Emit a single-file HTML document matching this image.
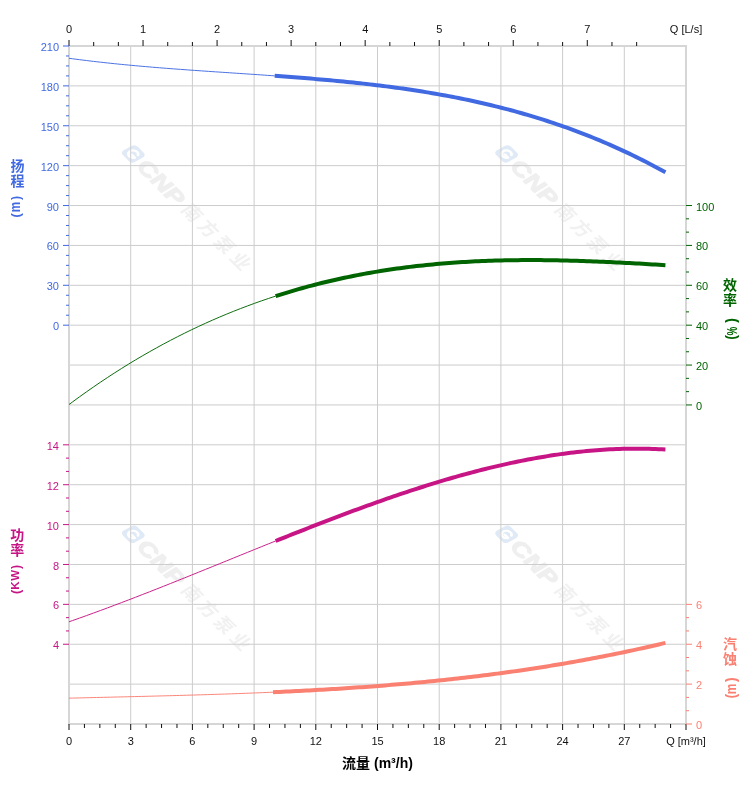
<!DOCTYPE html>
<html lang="zh"><head><meta charset="utf-8"><title>性能曲线</title>
<style>html,body{margin:0;padding:0;background:#fff}body{width:752px;height:797px;overflow:hidden}svg{display:block}</style>
</head><body>
<svg width="752" height="797" viewBox="0 0 752 797"><g transform="translate(133.3,153.9) rotate(45)"><g transform="skewX(-16)"><rect x="-8.2" y="-8.2" width="16.4" height="16.4" rx="4" fill="#dfeaf6"/><path d="M3.6,-2.4 A4.3,4.3 0 1 0 4.2,1.6 L-0.6,1.6" fill="none" stroke="#fff" stroke-width="2.4" stroke-linecap="round" stroke-linejoin="round"/></g><text transform="translate(11.5,7.6) scale(1.27,1)" font-size="21" font-weight="bold" font-style="italic" fill="#efefef" stroke="#efefef" stroke-width="1.2" stroke-linejoin="round" font-family="'Liberation Sans',sans-serif">CNP</text><text transform="translate(82.0,6.6) skewX(-12)" text-anchor="middle" font-size="18.5" font-weight="bold" fill="#f1f1f1" font-family="'Liberation Sans','Noto Sans CJK SC',sans-serif">南</text><text transform="translate(104.7,6.6) skewX(-12)" text-anchor="middle" font-size="18.5" font-weight="bold" fill="#f1f1f1" font-family="'Liberation Sans','Noto Sans CJK SC',sans-serif">方</text><text transform="translate(127.5,6.6) skewX(-12)" text-anchor="middle" font-size="18.5" font-weight="bold" fill="#f1f1f1" font-family="'Liberation Sans','Noto Sans CJK SC',sans-serif">泵</text><text transform="translate(150.5,6.6) skewX(-12)" text-anchor="middle" font-size="18.5" font-weight="bold" fill="#f1f1f1" font-family="'Liberation Sans','Noto Sans CJK SC',sans-serif">业</text></g><g transform="translate(506.6,153.9) rotate(45)"><g transform="skewX(-16)"><rect x="-8.2" y="-8.2" width="16.4" height="16.4" rx="4" fill="#dfeaf6"/><path d="M3.6,-2.4 A4.3,4.3 0 1 0 4.2,1.6 L-0.6,1.6" fill="none" stroke="#fff" stroke-width="2.4" stroke-linecap="round" stroke-linejoin="round"/></g><text transform="translate(11.5,7.6) scale(1.27,1)" font-size="21" font-weight="bold" font-style="italic" fill="#efefef" stroke="#efefef" stroke-width="1.2" stroke-linejoin="round" font-family="'Liberation Sans',sans-serif">CNP</text><text transform="translate(82.0,6.6) skewX(-12)" text-anchor="middle" font-size="18.5" font-weight="bold" fill="#f1f1f1" font-family="'Liberation Sans','Noto Sans CJK SC',sans-serif">南</text><text transform="translate(104.7,6.6) skewX(-12)" text-anchor="middle" font-size="18.5" font-weight="bold" fill="#f1f1f1" font-family="'Liberation Sans','Noto Sans CJK SC',sans-serif">方</text><text transform="translate(127.5,6.6) skewX(-12)" text-anchor="middle" font-size="18.5" font-weight="bold" fill="#f1f1f1" font-family="'Liberation Sans','Noto Sans CJK SC',sans-serif">泵</text><text transform="translate(150.5,6.6) skewX(-12)" text-anchor="middle" font-size="18.5" font-weight="bold" fill="#f1f1f1" font-family="'Liberation Sans','Noto Sans CJK SC',sans-serif">业</text></g><g transform="translate(133.3,534.3) rotate(45)"><g transform="skewX(-16)"><rect x="-8.2" y="-8.2" width="16.4" height="16.4" rx="4" fill="#dfeaf6"/><path d="M3.6,-2.4 A4.3,4.3 0 1 0 4.2,1.6 L-0.6,1.6" fill="none" stroke="#fff" stroke-width="2.4" stroke-linecap="round" stroke-linejoin="round"/></g><text transform="translate(11.5,7.6) scale(1.27,1)" font-size="21" font-weight="bold" font-style="italic" fill="#efefef" stroke="#efefef" stroke-width="1.2" stroke-linejoin="round" font-family="'Liberation Sans',sans-serif">CNP</text><text transform="translate(82.0,6.6) skewX(-12)" text-anchor="middle" font-size="18.5" font-weight="bold" fill="#f1f1f1" font-family="'Liberation Sans','Noto Sans CJK SC',sans-serif">南</text><text transform="translate(104.7,6.6) skewX(-12)" text-anchor="middle" font-size="18.5" font-weight="bold" fill="#f1f1f1" font-family="'Liberation Sans','Noto Sans CJK SC',sans-serif">方</text><text transform="translate(127.5,6.6) skewX(-12)" text-anchor="middle" font-size="18.5" font-weight="bold" fill="#f1f1f1" font-family="'Liberation Sans','Noto Sans CJK SC',sans-serif">泵</text><text transform="translate(150.5,6.6) skewX(-12)" text-anchor="middle" font-size="18.5" font-weight="bold" fill="#f1f1f1" font-family="'Liberation Sans','Noto Sans CJK SC',sans-serif">业</text></g><g transform="translate(506.6,534.3) rotate(45)"><g transform="skewX(-16)"><rect x="-8.2" y="-8.2" width="16.4" height="16.4" rx="4" fill="#dfeaf6"/><path d="M3.6,-2.4 A4.3,4.3 0 1 0 4.2,1.6 L-0.6,1.6" fill="none" stroke="#fff" stroke-width="2.4" stroke-linecap="round" stroke-linejoin="round"/></g><text transform="translate(11.5,7.6) scale(1.27,1)" font-size="21" font-weight="bold" font-style="italic" fill="#efefef" stroke="#efefef" stroke-width="1.2" stroke-linejoin="round" font-family="'Liberation Sans',sans-serif">CNP</text><text transform="translate(82.0,6.6) skewX(-12)" text-anchor="middle" font-size="18.5" font-weight="bold" fill="#f1f1f1" font-family="'Liberation Sans','Noto Sans CJK SC',sans-serif">南</text><text transform="translate(104.7,6.6) skewX(-12)" text-anchor="middle" font-size="18.5" font-weight="bold" fill="#f1f1f1" font-family="'Liberation Sans','Noto Sans CJK SC',sans-serif">方</text><text transform="translate(127.5,6.6) skewX(-12)" text-anchor="middle" font-size="18.5" font-weight="bold" fill="#f1f1f1" font-family="'Liberation Sans','Noto Sans CJK SC',sans-serif">泵</text><text transform="translate(150.5,6.6) skewX(-12)" text-anchor="middle" font-size="18.5" font-weight="bold" fill="#f1f1f1" font-family="'Liberation Sans','Noto Sans CJK SC',sans-serif">业</text></g>
<g fill="#cccccc"><rect x="130.20" y="46" width="1" height="678"/><rect x="191.90" y="46" width="1" height="678"/><rect x="253.60" y="46" width="1" height="678"/><rect x="315.30" y="46" width="1" height="678"/><rect x="377.00" y="46" width="1" height="678"/><rect x="438.70" y="46" width="1" height="678"/><rect x="500.40" y="46" width="1" height="678"/><rect x="562.10" y="46" width="1" height="678"/><rect x="623.80" y="46" width="1" height="678"/><rect x="69" y="85.38" width="617" height="1"/><rect x="69" y="125.26" width="617" height="1"/><rect x="69" y="165.15" width="617" height="1"/><rect x="69" y="205.03" width="617" height="1"/><rect x="69" y="244.91" width="617" height="1"/><rect x="69" y="284.79" width="617" height="1"/><rect x="69" y="324.68" width="617" height="1"/><rect x="69" y="364.56" width="617" height="1"/><rect x="69" y="404.44" width="617" height="1"/><rect x="69" y="444.32" width="617" height="1"/><rect x="69" y="484.21" width="617" height="1"/><rect x="69" y="524.09" width="617" height="1"/><rect x="69" y="563.97" width="617" height="1"/><rect x="69" y="603.85" width="617" height="1"/><rect x="69" y="643.74" width="617" height="1"/><rect x="69" y="683.62" width="617" height="1"/></g>
<g fill="#d6d6d6" shape-rendering="crispEdges"><rect x="68" y="45" width="619" height="2"/><rect x="68" y="723" width="619" height="2"/><rect x="68" y="45" width="2" height="680"/><rect x="685" y="45" width="2" height="680"/></g>
<g fill="#111111"><rect x="68.50" y="724" width="1" height="6"/><rect x="83.92" y="724" width="1" height="4"/><rect x="99.35" y="724" width="1" height="4"/><rect x="114.78" y="724" width="1" height="4"/><rect x="130.20" y="724" width="1" height="6"/><rect x="145.62" y="724" width="1" height="4"/><rect x="161.05" y="724" width="1" height="4"/><rect x="176.47" y="724" width="1" height="4"/><rect x="191.90" y="724" width="1" height="6"/><rect x="207.32" y="724" width="1" height="4"/><rect x="222.75" y="724" width="1" height="4"/><rect x="238.18" y="724" width="1" height="4"/><rect x="253.60" y="724" width="1" height="6"/><rect x="269.02" y="724" width="1" height="4"/><rect x="284.45" y="724" width="1" height="4"/><rect x="299.88" y="724" width="1" height="4"/><rect x="315.30" y="724" width="1" height="6"/><rect x="330.73" y="724" width="1" height="4"/><rect x="346.15" y="724" width="1" height="4"/><rect x="361.57" y="724" width="1" height="4"/><rect x="377.00" y="724" width="1" height="6"/><rect x="392.43" y="724" width="1" height="4"/><rect x="407.85" y="724" width="1" height="4"/><rect x="423.27" y="724" width="1" height="4"/><rect x="438.70" y="724" width="1" height="6"/><rect x="454.12" y="724" width="1" height="4"/><rect x="469.55" y="724" width="1" height="4"/><rect x="484.98" y="724" width="1" height="4"/><rect x="500.40" y="724" width="1" height="6"/><rect x="515.83" y="724" width="1" height="4"/><rect x="531.25" y="724" width="1" height="4"/><rect x="546.67" y="724" width="1" height="4"/><rect x="562.10" y="724" width="1" height="6"/><rect x="577.52" y="724" width="1" height="4"/><rect x="592.95" y="724" width="1" height="4"/><rect x="608.38" y="724" width="1" height="4"/><rect x="623.80" y="724" width="1" height="6"/><rect x="639.23" y="724" width="1" height="4"/><rect x="654.65" y="724" width="1" height="4"/><rect x="670.08" y="724" width="1" height="4"/><rect x="685.50" y="724" width="1" height="6"/><rect x="68.50" y="40" width="1" height="6"/><rect x="93.18" y="42" width="1" height="4"/><rect x="117.86" y="42" width="1" height="4"/><rect x="142.54" y="40" width="1" height="6"/><rect x="167.22" y="42" width="1" height="4"/><rect x="191.90" y="42" width="1" height="4"/><rect x="216.58" y="40" width="1" height="6"/><rect x="241.26" y="42" width="1" height="4"/><rect x="265.94" y="42" width="1" height="4"/><rect x="290.62" y="40" width="1" height="6"/><rect x="315.30" y="42" width="1" height="4"/><rect x="339.98" y="42" width="1" height="4"/><rect x="364.66" y="40" width="1" height="6"/><rect x="389.34" y="42" width="1" height="4"/><rect x="414.02" y="42" width="1" height="4"/><rect x="438.70" y="40" width="1" height="6"/><rect x="463.38" y="42" width="1" height="4"/><rect x="488.06" y="42" width="1" height="4"/><rect x="512.74" y="40" width="1" height="6"/><rect x="537.42" y="42" width="1" height="4"/><rect x="562.10" y="42" width="1" height="4"/><rect x="586.78" y="40" width="1" height="6"/><rect x="611.46" y="42" width="1" height="4"/><rect x="636.14" y="42" width="1" height="4"/></g>
<g fill="#4169e1"><rect x="63" y="45.50" width="6" height="1"/><rect x="66" y="55.47" width="3" height="1"/><rect x="66" y="65.44" width="3" height="1"/><rect x="66" y="75.41" width="3" height="1"/><rect x="63" y="85.38" width="6" height="1"/><rect x="66" y="95.35" width="3" height="1"/><rect x="66" y="105.32" width="3" height="1"/><rect x="66" y="115.29" width="3" height="1"/><rect x="63" y="125.26" width="6" height="1"/><rect x="66" y="135.24" width="3" height="1"/><rect x="66" y="145.21" width="3" height="1"/><rect x="66" y="155.18" width="3" height="1"/><rect x="63" y="165.15" width="6" height="1"/><rect x="66" y="175.12" width="3" height="1"/><rect x="66" y="185.09" width="3" height="1"/><rect x="66" y="195.06" width="3" height="1"/><rect x="63" y="205.03" width="6" height="1"/><rect x="66" y="215.00" width="3" height="1"/><rect x="66" y="224.97" width="3" height="1"/><rect x="66" y="234.94" width="3" height="1"/><rect x="63" y="244.91" width="6" height="1"/><rect x="66" y="254.88" width="3" height="1"/><rect x="66" y="264.85" width="3" height="1"/><rect x="66" y="274.82" width="3" height="1"/><rect x="63" y="284.79" width="6" height="1"/><rect x="66" y="294.76" width="3" height="1"/><rect x="66" y="304.74" width="3" height="1"/><rect x="66" y="314.71" width="3" height="1"/><rect x="63" y="324.68" width="6" height="1"/></g>
<g fill="#006400"><rect x="686" y="205.03" width="6" height="1"/><rect x="686" y="218.32" width="3" height="1"/><rect x="686" y="231.62" width="3" height="1"/><rect x="686" y="244.91" width="6" height="1"/><rect x="686" y="258.21" width="3" height="1"/><rect x="686" y="271.50" width="3" height="1"/><rect x="686" y="284.79" width="6" height="1"/><rect x="686" y="298.09" width="3" height="1"/><rect x="686" y="311.38" width="3" height="1"/><rect x="686" y="324.68" width="6" height="1"/><rect x="686" y="337.97" width="3" height="1"/><rect x="686" y="351.26" width="3" height="1"/><rect x="686" y="364.56" width="6" height="1"/><rect x="686" y="377.85" width="3" height="1"/><rect x="686" y="391.15" width="3" height="1"/><rect x="686" y="404.44" width="6" height="1"/></g>
<g fill="#c71585"><rect x="63" y="444.32" width="6" height="1"/><rect x="66" y="457.62" width="3" height="1"/><rect x="66" y="470.91" width="3" height="1"/><rect x="63" y="484.21" width="6" height="1"/><rect x="66" y="497.50" width="3" height="1"/><rect x="66" y="510.79" width="3" height="1"/><rect x="63" y="524.09" width="6" height="1"/><rect x="66" y="537.38" width="3" height="1"/><rect x="66" y="550.68" width="3" height="1"/><rect x="63" y="563.97" width="6" height="1"/><rect x="66" y="577.26" width="3" height="1"/><rect x="66" y="590.56" width="3" height="1"/><rect x="63" y="603.85" width="6" height="1"/><rect x="66" y="617.15" width="3" height="1"/><rect x="66" y="630.44" width="3" height="1"/><rect x="63" y="643.74" width="6" height="1"/></g>
<g fill="#fa8072"><rect x="686" y="603.85" width="6" height="1"/><rect x="686" y="617.15" width="3" height="1"/><rect x="686" y="630.44" width="3" height="1"/><rect x="686" y="643.74" width="6" height="1"/><rect x="686" y="657.03" width="3" height="1"/><rect x="686" y="670.32" width="3" height="1"/><rect x="686" y="683.62" width="6" height="1"/><rect x="686" y="696.91" width="3" height="1"/><rect x="686" y="710.21" width="3" height="1"/><rect x="686" y="723.50" width="6" height="1"/></g>
<g font-size="11" font-family="'Liberation Sans',sans-serif"><text x="69.0" y="745" text-anchor="middle" fill="#111">0</text><text x="130.7" y="745" text-anchor="middle" fill="#111">3</text><text x="192.4" y="745" text-anchor="middle" fill="#111">6</text><text x="254.1" y="745" text-anchor="middle" fill="#111">9</text><text x="315.8" y="745" text-anchor="middle" fill="#111">12</text><text x="377.5" y="745" text-anchor="middle" fill="#111">15</text><text x="439.2" y="745" text-anchor="middle" fill="#111">18</text><text x="500.9" y="745" text-anchor="middle" fill="#111">21</text><text x="562.6" y="745" text-anchor="middle" fill="#111">24</text><text x="624.3" y="745" text-anchor="middle" fill="#111">27</text><text x="686" y="745" text-anchor="middle" fill="#111">Q [m³/h]</text><text x="69.0" y="33" text-anchor="middle" fill="#111">0</text><text x="143.0" y="33" text-anchor="middle" fill="#111">1</text><text x="217.1" y="33" text-anchor="middle" fill="#111">2</text><text x="291.1" y="33" text-anchor="middle" fill="#111">3</text><text x="365.2" y="33" text-anchor="middle" fill="#111">4</text><text x="439.2" y="33" text-anchor="middle" fill="#111">5</text><text x="513.2" y="33" text-anchor="middle" fill="#111">6</text><text x="587.3" y="33" text-anchor="middle" fill="#111">7</text><text x="686" y="33" text-anchor="middle" fill="#111">Q [L/s]</text><text x="59" y="51.0" text-anchor="end" fill="#4169e1">210</text><text x="59" y="90.9" text-anchor="end" fill="#4169e1">180</text><text x="59" y="130.8" text-anchor="end" fill="#4169e1">150</text><text x="59" y="170.6" text-anchor="end" fill="#4169e1">120</text><text x="59" y="210.5" text-anchor="end" fill="#4169e1">90</text><text x="59" y="250.4" text-anchor="end" fill="#4169e1">60</text><text x="59" y="290.3" text-anchor="end" fill="#4169e1">30</text><text x="59" y="330.2" text-anchor="end" fill="#4169e1">0</text><text x="696" y="210.5" fill="#006400">100</text><text x="696" y="250.4" fill="#006400">80</text><text x="696" y="290.3" fill="#006400">60</text><text x="696" y="330.2" fill="#006400">40</text><text x="696" y="370.1" fill="#006400">20</text><text x="696" y="409.9" fill="#006400">0</text><text x="59" y="449.8" text-anchor="end" fill="#c71585">14</text><text x="59" y="489.7" text-anchor="end" fill="#c71585">12</text><text x="59" y="529.6" text-anchor="end" fill="#c71585">10</text><text x="59" y="569.5" text-anchor="end" fill="#c71585">8</text><text x="59" y="609.4" text-anchor="end" fill="#c71585">6</text><text x="59" y="649.2" text-anchor="end" fill="#c71585">4</text><text x="696" y="609.4" fill="#fa8072">6</text><text x="696" y="649.2" fill="#fa8072">4</text><text x="696" y="689.1" fill="#fa8072">2</text><text x="696" y="729.0" fill="#fa8072">0</text></g>
<path d="M69.00,58.28 L72.49,58.75 L75.97,59.21 L79.46,59.66 L82.94,60.10 L86.43,60.53 L89.92,60.96 L93.40,61.37 L96.89,61.77 L100.37,62.17 L103.86,62.55 L107.34,62.93 L110.83,63.30 L114.32,63.66 L117.80,64.02 L121.29,64.37 L124.77,64.71 L128.26,65.04 L131.75,65.37 L135.23,65.69 L138.72,66.01 L142.20,66.32 L145.69,66.62 L149.18,66.92 L152.66,67.21 L156.15,67.50 L159.63,67.78 L163.12,68.06 L166.60,68.33 L170.09,68.60 L173.58,68.87 L177.06,69.13 L180.55,69.39 L184.03,69.64 L187.52,69.90 L191.01,70.15 L194.49,70.39 L197.98,70.64 L201.46,70.88 L204.95,71.12 L208.44,71.36 L211.92,71.59 L215.41,71.83 L218.89,72.06 L222.38,72.30 L225.86,72.53 L229.35,72.76 L232.84,73.00 L236.32,73.23 L239.81,73.46 L243.29,73.69 L246.78,73.93 L250.27,74.16 L253.75,74.40 L257.24,74.63 L260.72,74.87 L264.21,75.11 L267.69,75.36 L271.18,75.60 L274.67,75.85" fill="none" stroke="#4169e1" stroke-width="0.95"/><path d="M274.67,75.85 L277.95,76.08 L281.23,76.32 L284.52,76.56 L287.80,76.80 L291.09,77.05 L294.37,77.30 L297.65,77.55 L300.94,77.81 L304.22,78.07 L307.50,78.34 L310.79,78.60 L314.07,78.88 L317.36,79.16 L320.64,79.44 L323.92,79.73 L327.21,80.02 L330.49,80.32 L333.77,80.62 L337.06,80.93 L340.34,81.25 L343.63,81.57 L346.91,81.89 L350.19,82.23 L353.48,82.57 L356.76,82.92 L360.04,83.27 L363.33,83.63 L366.61,84.00 L369.90,84.38 L373.18,84.76 L376.46,85.15 L379.75,85.55 L383.03,85.96 L386.31,86.38 L389.60,86.80 L392.88,87.24 L396.17,87.68 L399.45,88.13 L402.73,88.59 L406.02,89.07 L409.30,89.55 L412.58,90.04 L415.87,90.54 L419.15,91.05 L422.44,91.57 L425.72,92.10 L429.00,92.65 L432.29,93.20 L435.57,93.77 L438.85,94.35 L442.14,94.93 L445.42,95.53 L448.71,96.15 L451.99,96.77 L455.27,97.41 L458.56,98.06 L461.84,98.72 L465.12,99.40 L468.41,100.08 L471.69,100.78 L474.98,101.50 L478.26,102.23 L481.54,102.97 L484.83,103.73 L488.11,104.50 L491.39,105.28 L494.68,106.08 L497.96,106.90 L501.25,107.72 L504.53,108.57 L507.81,109.43 L511.10,110.30 L514.38,111.19 L517.66,112.10 L520.95,113.02 L524.23,113.96 L527.52,114.92 L530.80,115.89 L534.08,116.88 L537.37,117.88 L540.65,118.90 L543.93,119.94 L547.22,121.00 L550.50,122.08 L553.79,123.17 L557.07,124.28 L560.35,125.41 L563.64,126.56 L566.92,127.72 L570.20,128.91 L573.49,130.11 L576.77,131.33 L580.06,132.58 L583.34,133.84 L586.62,135.12 L589.91,136.42 L593.19,137.74 L596.47,139.09 L599.76,140.45 L603.04,141.83 L606.33,143.24 L609.61,144.66 L612.89,146.11 L616.18,147.57 L619.46,149.06 L622.74,150.58 L626.03,152.11 L629.31,153.66 L632.60,155.24 L635.88,156.84 L639.16,158.46 L642.45,160.11 L645.73,161.78 L649.01,163.47 L652.30,165.18 L655.58,166.92 L658.87,168.69 L662.15,170.47 L665.43,172.28" fill="none" stroke="#4169e1" stroke-width="4"/>
<path d="M69.00,404.55 L72.50,401.95 L76.00,399.38 L79.50,396.83 L83.01,394.32 L86.51,391.83 L90.01,389.38 L93.51,386.95 L97.01,384.54 L100.51,382.17 L104.02,379.82 L107.52,377.50 L111.02,375.21 L114.52,372.94 L118.02,370.71 L121.52,368.50 L125.02,366.31 L128.53,364.16 L132.03,362.03 L135.53,359.92 L139.03,357.84 L142.53,355.79 L146.03,353.77 L149.54,351.77 L153.04,349.80 L156.54,347.85 L160.04,345.93 L163.54,344.03 L167.04,342.16 L170.55,340.32 L174.05,338.50 L177.55,336.71 L181.05,334.94 L184.55,333.19 L188.05,331.47 L191.55,329.78 L195.06,328.11 L198.56,326.46 L202.06,324.84 L205.56,323.24 L209.06,321.67 L212.56,320.12 L216.07,318.59 L219.57,317.09 L223.07,315.61 L226.57,314.15 L230.07,312.72 L233.57,311.31 L237.07,309.92 L240.58,308.56 L244.08,307.22 L247.58,305.90 L251.08,304.60 L254.58,303.32 L258.08,302.07 L261.59,300.84 L265.09,299.63 L268.59,298.45 L272.09,297.28 L275.59,296.14" fill="none" stroke="#006400" stroke-width="0.95"/><path d="M275.59,296.14 L278.87,295.08 L282.14,294.05 L285.42,293.04 L288.70,292.04 L291.97,291.06 L295.25,290.10 L298.52,289.16 L301.80,288.24 L305.08,287.33 L308.35,286.44 L311.63,285.57 L314.90,284.71 L318.18,283.88 L321.46,283.06 L324.73,282.25 L328.01,281.47 L331.28,280.70 L334.56,279.94 L337.84,279.21 L341.11,278.48 L344.39,277.78 L347.66,277.09 L350.94,276.42 L354.22,275.76 L357.49,275.12 L360.77,274.50 L364.04,273.89 L367.32,273.29 L370.60,272.71 L373.87,272.15 L377.15,271.60 L380.42,271.06 L383.70,270.54 L386.98,270.04 L390.25,269.54 L393.53,269.07 L396.80,268.60 L400.08,268.15 L403.36,267.72 L406.63,267.30 L409.91,266.89 L413.18,266.50 L416.46,266.11 L419.74,265.75 L423.01,265.39 L426.29,265.05 L429.56,264.72 L432.84,264.40 L436.12,264.10 L439.39,263.81 L442.67,263.53 L445.94,263.26 L449.22,263.01 L452.49,262.76 L455.77,262.53 L459.05,262.31 L462.32,262.10 L465.60,261.90 L468.87,261.71 L472.15,261.54 L475.43,261.37 L478.70,261.22 L481.98,261.08 L485.25,260.94 L488.53,260.82 L491.81,260.71 L495.08,260.60 L498.36,260.51 L501.63,260.43 L504.91,260.35 L508.19,260.29 L511.46,260.23 L514.74,260.18 L518.01,260.15 L521.29,260.12 L524.57,260.10 L527.84,260.08 L531.12,260.08 L534.39,260.09 L537.67,260.10 L540.95,260.12 L544.22,260.15 L547.50,260.18 L550.77,260.23 L554.05,260.28 L557.33,260.33 L560.60,260.40 L563.88,260.47 L567.15,260.55 L570.43,260.63 L573.71,260.72 L576.98,260.82 L580.26,260.92 L583.53,261.03 L586.81,261.15 L590.09,261.27 L593.36,261.39 L596.64,261.52 L599.91,261.66 L603.19,261.80 L606.47,261.94 L609.74,262.09 L613.02,262.25 L616.29,262.41 L619.57,262.57 L622.85,262.73 L626.12,262.91 L629.40,263.08 L632.67,263.26 L635.95,263.44 L639.23,263.62 L642.50,263.81 L645.78,264.00 L649.05,264.19 L652.33,264.38 L655.61,264.58 L658.88,264.78 L662.16,264.98 L665.43,265.18" fill="none" stroke="#006400" stroke-width="4"/>
<path d="M69.00,621.79 L72.50,620.57 L76.00,619.33 L79.50,618.09 L83.01,616.85 L86.51,615.59 L90.01,614.32 L93.51,613.05 L97.01,611.77 L100.51,610.48 L104.02,609.19 L107.52,607.89 L111.02,606.58 L114.52,605.26 L118.02,603.94 L121.52,602.62 L125.02,601.28 L128.53,599.94 L132.03,598.60 L135.53,597.25 L139.03,595.89 L142.53,594.53 L146.03,593.17 L149.54,591.80 L153.04,590.42 L156.54,589.04 L160.04,587.66 L163.54,586.27 L167.04,584.88 L170.55,583.49 L174.05,582.09 L177.55,580.69 L181.05,579.28 L184.55,577.88 L188.05,576.47 L191.55,575.06 L195.06,573.64 L198.56,572.23 L202.06,570.81 L205.56,569.39 L209.06,567.97 L212.56,566.55 L216.07,565.13 L219.57,563.71 L223.07,562.28 L226.57,560.86 L230.07,559.44 L233.57,558.01 L237.07,556.59 L240.58,555.17 L244.08,553.74 L247.58,552.32 L251.08,550.90 L254.58,549.48 L258.08,548.06 L261.59,546.65 L265.09,545.23 L268.59,543.82 L272.09,542.41 L275.59,541.00" fill="none" stroke="#c71585" stroke-width="0.95"/><path d="M275.59,541.00 L278.87,539.69 L282.14,538.37 L285.42,537.07 L288.70,535.76 L291.97,534.46 L295.25,533.15 L298.52,531.86 L301.80,530.56 L305.08,529.27 L308.35,527.99 L311.63,526.71 L314.90,525.43 L318.18,524.15 L321.46,522.88 L324.73,521.62 L328.01,520.36 L331.28,519.11 L334.56,517.86 L337.84,516.61 L341.11,515.37 L344.39,514.14 L347.66,512.91 L350.94,511.69 L354.22,510.48 L357.49,509.27 L360.77,508.07 L364.04,506.87 L367.32,505.69 L370.60,504.51 L373.87,503.33 L377.15,502.17 L380.42,501.01 L383.70,499.86 L386.98,498.71 L390.25,497.58 L393.53,496.45 L396.80,495.33 L400.08,494.22 L403.36,493.12 L406.63,492.03 L409.91,490.95 L413.18,489.88 L416.46,488.81 L419.74,487.76 L423.01,486.72 L426.29,485.68 L429.56,484.66 L432.84,483.64 L436.12,482.64 L439.39,481.65 L442.67,480.67 L445.94,479.70 L449.22,478.74 L452.49,477.79 L455.77,476.86 L459.05,475.93 L462.32,475.02 L465.60,474.12 L468.87,473.24 L472.15,472.36 L475.43,471.50 L478.70,470.65 L481.98,469.81 L485.25,468.99 L488.53,468.18 L491.81,467.39 L495.08,466.60 L498.36,465.84 L501.63,465.08 L504.91,464.34 L508.19,463.62 L511.46,462.91 L514.74,462.21 L518.01,461.53 L521.29,460.87 L524.57,460.22 L527.84,459.58 L531.12,458.97 L534.39,458.36 L537.67,457.78 L540.95,457.21 L544.22,456.66 L547.50,456.12 L550.77,455.60 L554.05,455.10 L557.33,454.61 L560.60,454.14 L563.88,453.69 L567.15,453.26 L570.43,452.85 L573.71,452.45 L576.98,452.07 L580.26,451.72 L583.53,451.38 L586.81,451.05 L590.09,450.75 L593.36,450.47 L596.64,450.21 L599.91,449.96 L603.19,449.74 L606.47,449.53 L609.74,449.35 L613.02,449.19 L616.29,449.05 L619.57,448.92 L622.85,448.82 L626.12,448.74 L629.40,448.69 L632.67,448.65 L635.95,448.64 L639.23,448.64 L642.50,448.67 L645.78,448.72 L649.05,448.80 L652.33,448.90 L655.61,449.02 L658.88,449.16 L662.16,449.32 L665.43,449.51" fill="none" stroke="#c71585" stroke-width="4"/>
<path d="M69.00,698.17 L72.46,698.08 L75.92,698.00 L79.37,697.91 L82.83,697.83 L86.29,697.74 L89.75,697.66 L93.21,697.57 L96.66,697.49 L100.12,697.41 L103.58,697.33 L107.04,697.24 L110.50,697.16 L113.95,697.08 L117.41,697.00 L120.87,696.91 L124.33,696.83 L127.79,696.75 L131.24,696.66 L134.70,696.58 L138.16,696.50 L141.62,696.41 L145.08,696.33 L148.53,696.24 L151.99,696.15 L155.45,696.07 L158.91,695.98 L162.37,695.89 L165.82,695.80 L169.28,695.71 L172.74,695.62 L176.20,695.52 L179.66,695.43 L183.11,695.33 L186.57,695.23 L190.03,695.14 L193.49,695.04 L196.95,694.93 L200.40,694.83 L203.86,694.73 L207.32,694.62 L210.78,694.51 L214.24,694.40 L217.69,694.29 L221.15,694.17 L224.61,694.06 L228.07,693.94 L231.53,693.82 L234.98,693.70 L238.44,693.57 L241.90,693.45 L245.36,693.32 L248.82,693.18 L252.27,693.05 L255.73,692.91 L259.19,692.77 L262.65,692.63 L266.11,692.49 L269.56,692.34 L273.02,692.19" fill="none" stroke="#fa8072" stroke-width="0.95"/><path d="M273.02,692.19 L276.32,692.04 L279.62,691.89 L282.91,691.74 L286.21,691.58 L289.51,691.43 L292.81,691.27 L296.10,691.10 L299.40,690.94 L302.70,690.77 L306.00,690.59 L309.29,690.42 L312.59,690.24 L315.89,690.06 L319.19,689.87 L322.49,689.68 L325.78,689.49 L329.08,689.30 L332.38,689.10 L335.68,688.89 L338.97,688.69 L342.27,688.48 L345.57,688.26 L348.87,688.05 L352.16,687.82 L355.46,687.60 L358.76,687.37 L362.06,687.14 L365.35,686.90 L368.65,686.66 L371.95,686.41 L375.25,686.16 L378.54,685.91 L381.84,685.65 L385.14,685.39 L388.44,685.13 L391.73,684.86 L395.03,684.58 L398.33,684.30 L401.63,684.02 L404.92,683.73 L408.22,683.44 L411.52,683.14 L414.82,682.84 L418.11,682.53 L421.41,682.22 L424.71,681.90 L428.01,681.58 L431.31,681.25 L434.60,680.92 L437.90,680.59 L441.20,680.24 L444.50,679.90 L447.79,679.55 L451.09,679.19 L454.39,678.83 L457.69,678.46 L460.98,678.09 L464.28,677.71 L467.58,677.33 L470.88,676.94 L474.17,676.54 L477.47,676.14 L480.77,675.74 L484.07,675.33 L487.36,674.91 L490.66,674.49 L493.96,674.06 L497.26,673.63 L500.55,673.19 L503.85,672.74 L507.15,672.29 L510.45,671.83 L513.74,671.37 L517.04,670.90 L520.34,670.42 L523.64,669.94 L526.93,669.45 L530.23,668.96 L533.53,668.46 L536.83,667.95 L540.13,667.44 L543.42,666.92 L546.72,666.40 L550.02,665.86 L553.32,665.32 L556.61,664.78 L559.91,664.23 L563.21,663.67 L566.51,663.10 L569.80,662.53 L573.10,661.95 L576.40,661.37 L579.70,660.78 L582.99,660.18 L586.29,659.57 L589.59,658.96 L592.89,658.34 L596.18,657.71 L599.48,657.08 L602.78,656.44 L606.08,655.79 L609.37,655.14 L612.67,654.47 L615.97,653.81 L619.27,653.13 L622.56,652.44 L625.86,651.75 L629.16,651.05 L632.46,650.35 L635.76,649.63 L639.05,648.91 L642.35,648.18 L645.65,647.45 L648.95,646.70 L652.24,645.95 L655.54,645.19 L658.84,644.43 L662.14,643.65 L665.43,642.87" fill="none" stroke="#fa8072" stroke-width="4"/>
<text x="377.5" y="768" text-anchor="middle" font-size="14" font-weight="bold" fill="#000" font-family="'Liberation Sans','Noto Sans CJK SC',sans-serif">流量 (m³/h)</text>
<g font-weight="bold" fill="#4169e1" font-family="'Liberation Sans','Noto Sans CJK SC',sans-serif"><text x="17.4" y="170.8" font-size="14" text-anchor="middle">扬</text><text x="17.4" y="186.4" font-size="14" text-anchor="middle">程</text><text transform="translate(20.4,215.4) rotate(-90)" font-size="12.5" text-anchor="middle" >(</text><text transform="translate(20.2,207.05) rotate(-90)" font-size="14" text-anchor="middle" textLength="10.4" lengthAdjust="spacingAndGlyphs">m</text><text transform="translate(20.4,197.8) rotate(-90)" font-size="12.5" text-anchor="middle" >)</text></g>
<g font-weight="bold" fill="#c71585" font-family="'Liberation Sans','Noto Sans CJK SC',sans-serif"><text x="17.2" y="540.2" font-size="14" text-anchor="middle">功</text><text x="17.2" y="555.1" font-size="14" text-anchor="middle">率</text><text transform="translate(19.6,592.0) rotate(-90)" font-size="12.5" text-anchor="middle" >(</text><text transform="translate(19.0,579.6) rotate(-90)" font-size="11.5" text-anchor="middle" letter-spacing="0.6">KW</text><text transform="translate(19.6,566.9) rotate(-90)" font-size="12.5" text-anchor="middle" >)</text></g>
<g font-weight="bold" fill="#006400" font-family="'Liberation Sans','Noto Sans CJK SC',sans-serif"><text x="730.1" y="290.2" font-size="14" text-anchor="middle">效</text><text x="730.1" y="305.1" font-size="14" text-anchor="middle">率</text><text transform="translate(736.0,337.3) rotate(-90)" font-size="14" text-anchor="middle" >(</text><text transform="translate(736.8,331.0) rotate(-90)" font-size="15" text-anchor="middle" textLength="8.8" lengthAdjust="spacingAndGlyphs">%</text><text transform="translate(736.0,320.4) rotate(-90)" font-size="14" text-anchor="middle" >)</text></g>
<g font-weight="bold" fill="#fa8072" font-family="'Liberation Sans','Noto Sans CJK SC',sans-serif"><text x="730.0" y="649.3" font-size="14" text-anchor="middle">汽</text><text x="730.0" y="664.2" font-size="14" text-anchor="middle">蚀</text><text transform="translate(736.0,696.1) rotate(-90)" font-size="14" text-anchor="middle" >(</text><text transform="translate(736.0,688.9) rotate(-90)" font-size="14" text-anchor="middle" textLength="10.6" lengthAdjust="spacingAndGlyphs">m</text><text transform="translate(736.0,679.6) rotate(-90)" font-size="14" text-anchor="middle" >)</text></g></svg>
</body></html>
